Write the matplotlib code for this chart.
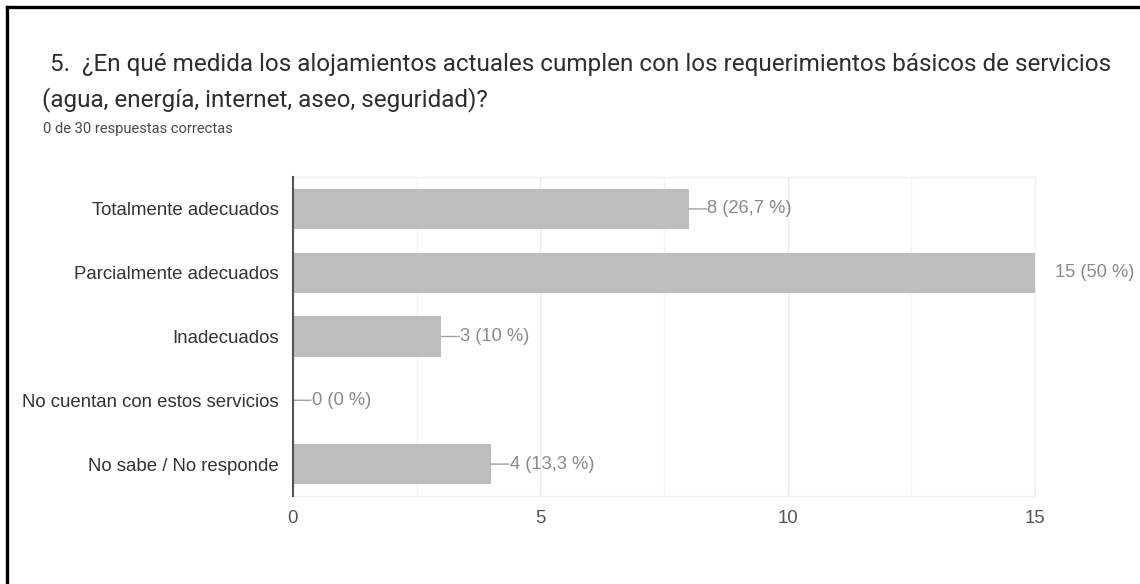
import matplotlib
matplotlib.use("Agg")
import matplotlib.pyplot as plt
from matplotlib.lines import Line2D

categories = ["Totalmente adecuados", "Parcialmente adecuados", "Inadecuados",
              "No cuentan con estos servicios", "No sabe / No responde"]
counts = [8, 15, 3, 0, 4]
percent_labels = ["26,7 %", "50 %", "10 %", "0 %", "13,3 %"]
x_ticks = [0, 5, 10, 15]
title_lines = ["5.  ¿En qué medida los alojamientos actuales cumplen con los requerimientos básicos de servicios",
               "(agua, energía, internet, aseo, seguridad)?"]
subtitle = "0 de 30 respuestas correctas"

W, H = 1140, 584
fig = plt.figure(figsize=(W / 100, H / 100), dpi=100)
fig.patch.set_facecolor("white")

def fx(px):
    return px / W

def fy(py):
    return 1 - py / H

# black frame (top and left edges visible)
fig.add_artist(Line2D([fx(6.5), fx(6.5)], [fy(6.5), 0], color="black", lw=2.4, transform=fig.transFigure))
fig.add_artist(Line2D([fx(6.5), 1], [fy(6.5), fy(6.5)], color="black", lw=2.4, transform=fig.transFigure))

# title
fig.text(fx(50), fy(64), title_lines[0], fontsize=17.45, family="Roboto", color="#2e2e2e", va="center", ha="left")
fig.text(fx(42), fy(100), title_lines[1], fontsize=17.45, family="Roboto", color="#2e2e2e", va="center", ha="left")
fig.text(fx(43), fy(129), subtitle, fontsize=10.6, family="Roboto", color="#4a4a4a", va="center", ha="left")

ax = fig.add_axes([fx(293), fy(496), fx(1035) - fx(293), fy(177) - fy(496)])
y = list(range(len(categories)))
ax.barh(y, counts, height=0.63, color="#bdbdbd", zorder=3)
ax.set_ylim(len(categories) - 0.5, -0.5)
ax.set_xlim(0, 15)

ax.set_xticks(x_ticks)
ax.set_xticklabels([str(t) for t in x_ticks])
ax.set_xticks([2.5, 7.5, 12.5], minor=True)
ax.set_yticks(y)
ax.set_yticklabels(categories)
ax.tick_params(axis="y", length=0, pad=10, labelsize=13.4, labelcolor="#333333")
ax.tick_params(axis="x", which="both", length=0, pad=10, labelsize=13.4, labelcolor="#555555")
for lab in ax.get_yticklabels() + ax.get_xticklabels():
    lab.set_family("Liberation Sans")

ax.grid(axis="x", which="major", color="#ebebeb", lw=1, zorder=0)
ax.grid(axis="x", which="minor", color="#f5f5f5", lw=1, zorder=0)
ax.grid(axis="y", visible=False)
for side in ["top", "right", "bottom"]:
    ax.spines[side].set_color("#f0f0f0")
    ax.spines[side].set_linewidth(1)
ax.spines["left"].set_color("#555555")
ax.spines["left"].set_linewidth(1.5)
ax.spines["left"].set_zorder(5)

for i, (c, p) in enumerate(zip(counts, percent_labels)):
    txt = f"{c} ({p})"
    if c >= 15:
        ax.annotate(txt, xy=(c, i), xytext=(14.4, 0), textcoords="offset points",
                    va="center", ha="left", fontsize=13.2, color="#8a8a8a", family="Liberation Sans",
                    annotation_clip=False)
    else:
        ax.annotate("", xy=(c, i), xytext=(13, 0), textcoords="offset points",
                    arrowprops=dict(arrowstyle="-", color="#a0a0a0", lw=1, shrinkA=0, shrinkB=0),
                    annotation_clip=False)
        ax.annotate(txt, xy=(c, i), xytext=(13.5, 0), textcoords="offset points",
                    va="center", ha="left", fontsize=13.2, color="#8a8a8a", family="Liberation Sans",
                    annotation_clip=False)

fig.savefig("out.png", dpi=100, facecolor="white")
